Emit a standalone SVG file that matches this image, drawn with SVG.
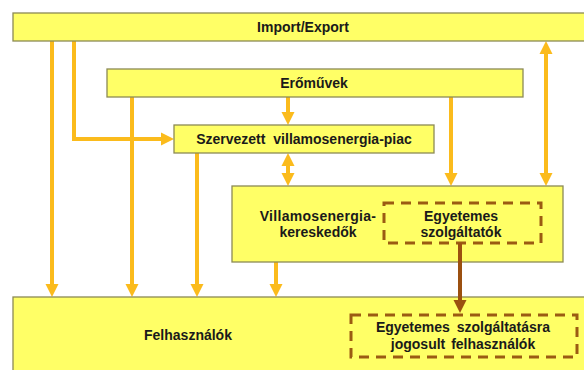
<svg xmlns="http://www.w3.org/2000/svg" width="584" height="370" viewBox="0 0 584 370">
<defs>
<style>
.box{fill:#ffff66;stroke:#8c8a55;stroke-width:1.3}
.dash{fill:none;stroke:#9b5b12;stroke-width:3;stroke-dasharray:10 7}
.t{font-family:"Liberation Sans",Arial,sans-serif;font-weight:bold;font-size:14px;fill:#1a1a1a;text-anchor:middle}
.c{fill:none;stroke:#fbbb1c;stroke-width:4}
.b{fill:none;stroke:#9b5010;stroke-width:4}
</style>
<marker id="ah" markerUnits="userSpaceOnUse" markerWidth="14" markerHeight="14" refX="5" refY="7" orient="auto-start-reverse" viewBox="0 0 14 14"><path d="M0,0.5 L13,7 L0,13.5 z" fill="#fbbb1c"/></marker>
<marker id="bh" markerUnits="userSpaceOnUse" markerWidth="14" markerHeight="14" refX="5" refY="7" orient="auto" viewBox="0 0 14 14"><path d="M0,0.5 L13,7 L0,13.5 z" fill="#9b5010"/></marker>
</defs>
<g id="connectors">
<path class="c" d="M52,41 V289" marker-end="url(#ah)"/>
<path class="c" d="M74,41 V139 H166" marker-end="url(#ah)"/>
<path class="c" d="M132,97 V289" marker-end="url(#ah)"/>
<path class="c" d="M288,97 V117" marker-end="url(#ah)"/>
<path class="c" d="M451,97 V178" marker-end="url(#ah)"/>
<path class="c" d="M546,49 V178" marker-start="url(#ah)" marker-end="url(#ah)"/>
<path class="c" d="M288,161 V178" marker-start="url(#ah)" marker-end="url(#ah)"/>
<path class="c" d="M197,153 V289" marker-end="url(#ah)"/>
<path class="c" d="M276,262 V289" marker-end="url(#ah)"/>
</g>
<g id="import-export"><rect class="box" x="13" y="13" width="600" height="28"/><text class="t" x="303" y="32">Import/Export</text></g>
<g id="eromuvek"><rect class="box" x="107" y="69" width="416" height="28"/><text class="t" x="314" y="88">Erőművek</text></g>
<g id="szervezett"><rect class="box" x="174" y="125" width="260" height="28"/><text class="t" x="304" y="144" style="word-spacing:4px">Szervezett villamosenergia-piac</text></g>
<g id="kereskedok"><rect class="box" x="232" y="186" width="331" height="76"/><text class="t" x="318" y="221" style="letter-spacing:0.3px">Villamosenergia-</text><text class="t" x="318" y="237">kereskedők</text></g>
<g id="egyetemes-szolgaltatok"><rect class="dash" x="384" y="203" width="157" height="40"/><text class="t" x="461" y="221">Egyetemes</text><text class="t" x="461" y="237">szolgáltatók</text></g>
<g id="felhasznalok"><rect class="box" x="13" y="297" width="600" height="100"/><text class="t" x="188" y="340">Felhasználók</text></g>
<g id="jogosult"><rect class="dash" x="351" y="315" width="226" height="42"/><text class="t" x="463" y="332" style="word-spacing:3px">Egyetemes szolgáltatásra</text><text class="t" x="463" y="349" style="word-spacing:2px">jogosult felhasználók</text></g>
<g id="brown-connector"><path class="b" d="M460,243 V305" marker-end="url(#bh)"/></g>
</svg>
